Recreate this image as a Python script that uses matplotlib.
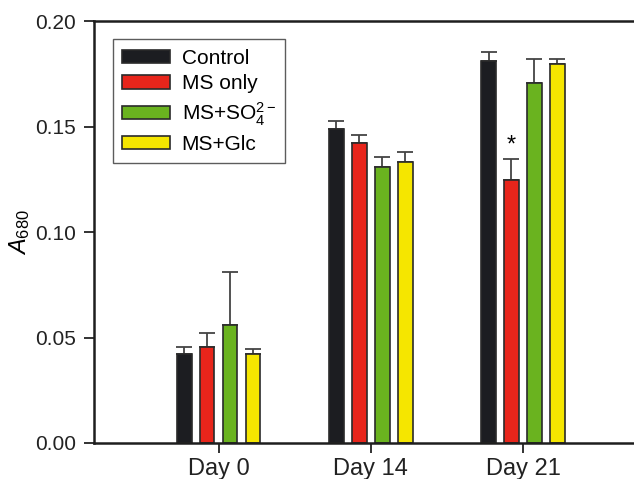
import matplotlib
matplotlib.use("Agg")
import matplotlib.pyplot as plt
import numpy as np

plt.rcParams['font.family'] = ['Liberation Sans', 'DejaVu Sans']
plt.rcParams['mathtext.fontset'] = 'custom'
plt.rcParams['mathtext.rm'] = 'Liberation Sans'
plt.rcParams['mathtext.it'] = 'Liberation Sans:italic'

days = ["Day 0", "Day 14", "Day 21"]
series = ["Control", "MS only", r"MS+SO$_4^{2-}$", "MS+Glc"]
colors = ["#1c1d21", "#e8251b", "#6ab31f", "#f5e600"]
control = [0.0422, 0.1487, 0.1812]
ms_only = [0.0455, 0.1420, 0.1246]
ms_so4 = [0.0558, 0.1310, 0.1705]
ms_glc = [0.0420, 0.1333, 0.1798]
control_err = [0.0034, 0.0041, 0.0043]
ms_only_err = [0.0065, 0.0040, 0.0098]
ms_so4_err = [0.0252, 0.0045, 0.0115]
ms_glc_err = [0.0025, 0.0047, 0.0022]

values = [control, ms_only, ms_so4, ms_glc]
errors = [control_err, ms_only_err, ms_so4_err, ms_glc_err]

fig = plt.figure(figsize=(6.34, 4.79), dpi=100)
ax = fig.add_axes([94/634, 36/479, 1 - 94/634, 422/479])

x = np.arange(len(days))
pitch = 0.151
width = 0.095
for i, (vals, errs, c, lab) in enumerate(zip(values, errors, colors, series)):
    pos = x + (i - 1.5) * pitch
    ax.bar(pos, vals, width, color=c, edgecolor="#2a2a2a", linewidth=1.2, label=lab, zorder=2)
    ax.errorbar(pos, vals, yerr=[np.zeros(len(vals)), errs], fmt='none',
                ecolor="#444444", elinewidth=1.3, capsize=5.5, capthick=1.3, zorder=1)

# significance marker
ax.text(x[2] + (1 - 1.5) * pitch, ms_only[2] + ms_only_err[2] + 0.0015, "*",
        ha="center", va="bottom", fontsize=17)

ax.set_xlim(-0.82, 2.73)
ax.set_ylim(0, 0.20)
ax.set_yticks([0, 0.05, 0.10, 0.15, 0.20])
ax.set_yticklabels(["0.00", "0.05", "0.10", "0.15", "0.20"])
ax.set_xticks(x)
ax.set_xticklabels(days)
ax.tick_params(axis='both', direction='out', length=7, width=1.3, colors="#222222")
ax.tick_params(axis='y', pad=6, labelsize=15)
ax.tick_params(axis='x', pad=4, labelsize=17)
for s in ["left", "top", "bottom"]:
    ax.spines[s].set_linewidth(1.8)
    ax.spines[s].set_color("#1e1e1e")
ax.spines["right"].set_visible(False)
ax.set_ylabel(r"$\mathit{A}_{680}$", fontsize=17, labelpad=2)

leg = ax.legend(loc="upper left", bbox_to_anchor=(0.035, 0.957), fontsize=15,
                frameon=True, fancybox=False, edgecolor="#333333",
                handlelength=2.3, handleheight=0.6, labelspacing=0.33,
                borderpad=0.45, handletextpad=0.55, borderaxespad=0)
leg.get_frame().set_linewidth(1.0)

fig.savefig("out.png", dpi=100)
